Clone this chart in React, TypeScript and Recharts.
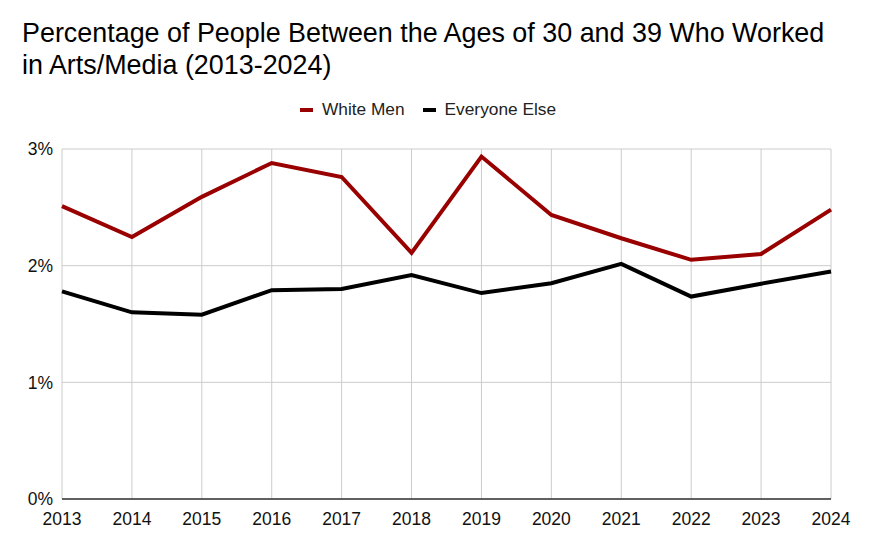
import React from "react";
import { LineChart, Line, XAxis, YAxis, CartesianGrid } from "recharts";

const years = ["2013", "2014", "2015", "2016", "2017", "2018", "2019", "2020", "2021", "2022", "2023", "2024"];
const whiteMen = [2.51, 2.245, 2.59, 2.88, 2.76, 2.11, 2.935, 2.435, 2.235, 2.05, 2.1, 2.48];
const everyoneElse = [1.78, 1.6, 1.58, 1.79, 1.8, 1.92, 1.765, 1.85, 2.015, 1.735, 1.845, 1.95];
const yTicks = [0, 1, 2, 3];

const data = years.map((y, i) => ({ year: y, whiteMen: whiteMen[i], everyoneElse: everyoneElse[i] }));

const FONT = "'Liberation Sans', Arial, sans-serif";

export default function App() {
  return (
    <div style={{ position: "absolute", left: 0, top: 0, width: 870, height: 555, background: "#fff", fontFamily: FONT }}>
      <div style={{ position: "absolute", left: 22, top: 16.5, fontSize: 26.9, lineHeight: "32px", color: "#000", whiteSpace: "nowrap" }}>
        Percentage of People Between the Ages of 30 and 39 Who Worked
        <br />
        in Arts/Media (2013-2024)
      </div>
      <div style={{ position: "absolute", left: 300, top: 99, height: 21, display: "flex", alignItems: "center", fontSize: 17.3, color: "#222", whiteSpace: "nowrap" }}>
        <span style={{ display: "inline-block", width: 13, height: 4, background: "#990000", marginRight: 9 }} />
        <span style={{ marginRight: 18 }}>White Men</span>
        <span style={{ display: "inline-block", width: 13, height: 4, background: "#000", marginRight: 9 }} />
        <span>Everyone Else</span>
      </div>
      <div style={{ position: "absolute", left: 0, top: 0 }}>
        <LineChart width={870} height={555} data={data} margin={{ top: 149, right: 39, left: 0, bottom: 26 }}>
          <CartesianGrid stroke="#cccccc" vertical={true} horizontal={true} />
          <XAxis
            dataKey="year"
            axisLine={{ stroke: "#333", strokeWidth: 1.5 }}
            tickLine={false}
            tick={{ fill: "#111", fontSize: 17.5, fontFamily: FONT }}
            tickMargin={8}
            height={30}
            interval={0}
            padding={{ left: 0, right: 0 }}
          />
          <YAxis
            domain={[0, 3]}
            ticks={yTicks}
            tickFormatter={(v: number) => `${v}%`}
            axisLine={false}
            tickLine={false}
            tick={{ fill: "#111", fontSize: 17.5, fontFamily: FONT }}
            width={62}
            tickMargin={3}
          />
          <Line type="linear" dataKey="whiteMen" stroke="#990000" strokeWidth={4} dot={false} isAnimationActive={false} />
          <Line type="linear" dataKey="everyoneElse" stroke="#000000" strokeWidth={4} dot={false} isAnimationActive={false} />
        </LineChart>
      </div>
    </div>
  );
}
